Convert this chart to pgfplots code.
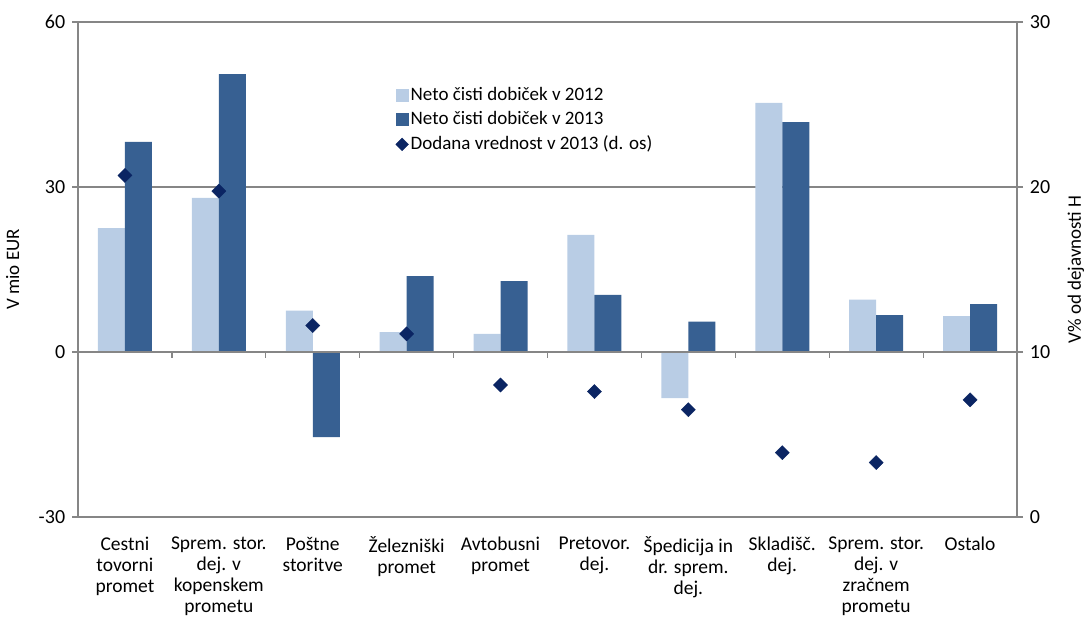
\documentclass[border=0pt]{standalone}
\usepackage{pgfplots}
\pgfplotsset{compat=1.18}
\usepackage{fontspec}
\setmainfont{Carlito}
\definecolor{light}{HTML}{B9CDE5}
\definecolor{dark}{HTML}{376092}
\definecolor{navy}{HTML}{0B2563}
\definecolor{axgray}{HTML}{868686}

\begin{document}
\fontsize{20}{21}\selectfont
\begin{tikzpicture}
\begin{axis}[
  name=ax,
  scale only axis,
  width=939pt, height=495pt,
  xmin=0.5, xmax=10.5,
  ymin=-30, ymax=60,
  ytick={-30,0,30,60},
  xtick={1,...,10},
  xticklabels={{Cestni\\tovorni\\promet},{Sprem. stor.\\dej. v\\kopenskem\\prometu},{Poštne\\storitve},{Železniški\\promet},{Avtobusni\\promet},{Pretovor.\\dej.},{Špedicija in\\dr. sprem.\\dej.},{Skladišč.\\dej.},{Sprem. stor.\\dej. v\\zračnem\\prometu},{Ostalo}},
  x tick label style={align=center, font=\fontsize{19.5}{21}\selectfont, yshift=-7pt},
  y tick label style={font=\fontsize{20}{21}\selectfont},
  /pgf/number format/assume math mode=true,
  x tick style={draw=none},
  ytick pos=left,
  tick align=outside,
  major tick length=6pt,
  axis line style={axgray, line width=1.2pt},
  y tick style={axgray, line width=1.2pt},
  ymajorgrids,
  grid style={axgray, line width=1.2pt},
  ylabel={V mio EUR},
  ylabel style={font=\fontsize{19}{21}\selectfont, yshift=6pt},
  ybar=0pt,
  bar width=27pt,
  legend style={draw=none, fill=none, at={(0.338,0.872)}, anchor=north west,
    font=\fontsize{19}{21}\selectfont, row sep=4pt, inner sep=0pt,
    /tikz/every even column/.append style={column sep=0pt}},
  legend cell align=left,
]
\addplot[fill=light, draw=none,
  legend image code/.code={\fill[light] (0pt,-6.5pt) rectangle (13pt,6.5pt);}]
  coordinates {(1,22.5) (2,28.0) (3,7.5) (4,3.6) (5,3.3) (6,21.3) (7,-8.4) (8,45.3) (9,9.5) (10,6.5)};
\addlegendentry{Neto čisti dobiček v 2012}
\addplot[fill=dark, draw=none,
  legend image code/.code={\fill[dark] (0pt,-6.5pt) rectangle (13pt,6.5pt);}]
  coordinates {(1,38.2) (2,50.5) (3,-15.5) (4,13.8) (5,12.9) (6,10.4) (7,5.5) (8,41.8) (9,6.7) (10,8.7)};
\addlegendentry{Neto čisti dobiček v 2013}
\addlegendimage{legend image code/.code={\fill[navy,rotate around={45:(6.5pt,0pt)}] (2pt,-4.5pt) rectangle (11pt,4.5pt);}}
\addlegendentry{Dodana vrednost v 2013 (d. os)}
\draw[axgray, line width=1.2pt] (axis cs:0.5,0) -- (axis cs:10.5,0);
\pgfplotsinvokeforeach{1.5,2.5,3.5,4.5,5.5,6.5,7.5,8.5,9.5}{
  \draw[axgray, line width=1.2pt] (axis cs:#1,0) -- ++(0pt,-6pt);
}
\end{axis}
\begin{axis}[
  scale only axis,
  width=939pt, height=495pt,
  xmin=0.5, xmax=10.5,
  ymin=0, ymax=30,
  ytick={0,10,20,30},
  axis x line=none,
  axis y line*=right,
  tick align=outside,
  major tick length=6pt,
  axis line style={axgray, line width=1.2pt, -},
  y tick style={axgray, line width=1.2pt},
  y tick label style={font=\fontsize{20}{21}\selectfont},
  /pgf/number format/assume math mode=true,
  ylabel={V\% od dejavnosti H},
  ylabel style={font=\fontsize{19}{21}\selectfont, yshift=-4pt},
]
\addplot[only marks, mark=square*, mark size=5pt, mark options={rotate=45, fill=navy, draw=navy}]
  coordinates {(1,20.7) (2,19.75) (3,11.6) (4,11.1) (5,8.0) (6,7.6) (7,6.5) (8,3.9) (9,3.3) (10,7.1)};
\end{axis}
\pgfresetboundingbox
\path[use as bounding box] (ax.south west) ++(-78pt,-102pt) rectangle ([shift={(69pt,22pt)}]ax.north east);
\end{tikzpicture}
\end{document}
